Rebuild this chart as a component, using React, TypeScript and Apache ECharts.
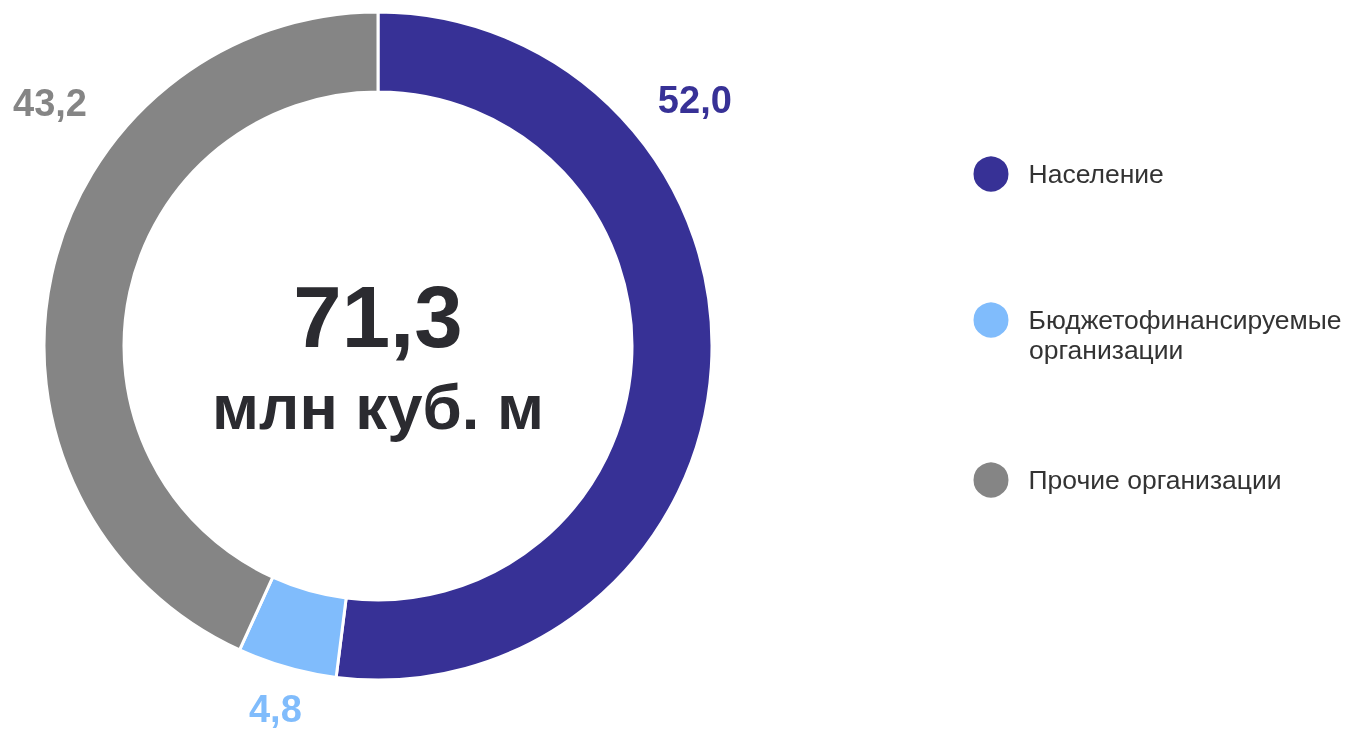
import React, { useEffect, useRef } from "react";
import * as echarts from "echarts";

const categories = ["Население", "Бюджетофинансируемые", "Прочие организации"];
const legendSecondLine = ["", "организации", ""];
const values = [52.0, 4.8, 43.2];
const colors = ["#373196", "#80BCFC", "#858585"];
const totalLabel = "71,3";
const unitLabel = "млн куб. м";
// angle (deg, clockwise from 12 o'clock) and distance from centre for value labels
const labelAngles = [52.2, 195.8, -53.5];
const labelDistances = [401, 377, 408];

const FONT = "'Liberation Sans', Arial, sans-serif";

export default function App() {
  const ref = useRef<HTMLDivElement>(null);
  useEffect(() => {
    if (!ref.current) return;
    const chart = echarts.init(ref.current, undefined, { renderer: "svg" });
    const cx = 378;
    const cy = 346;
    const legendTops = [173, 319, 479];
    chart.setOption({
      animation: false,
      color: colors,
      legend: categories.map((c, i) => ({
        data: [c],
        orient: "vertical",
        left: 966.5,
        top: legendTops[i] - 18.5 - 5,
        icon: "circle",
        itemWidth: 37,
        itemHeight: 37,
        selectedMode: false,
        textStyle: {
          fontFamily: FONT,
          fontSize: 26.5,
          color: "#333333",
          padding: [0, 0, 0, 14],
        },
      })),
      graphic: [
        {
          type: "text",
          x: cx,
          y: 316,
          style: {
            text: totalLabel,
            fontFamily: FONT,
            fontWeight: "bold",
            fontSize: 87,
            fill: "#2b2b30",
            align: "center",
            verticalAlign: "middle",
          },
        },
        {
          type: "text",
          x: cx,
          y: 407,
          style: {
            text: unitLabel,
            fontFamily: FONT,
            fontWeight: "bold",
            fontSize: 63.5,
            fill: "#2b2b30",
            align: "center",
            verticalAlign: "middle",
          },
        },
        ...legendSecondLine
          .map((t, i) =>
            t
              ? {
                  type: "text",
                  x: 1029,
                  y: legendTops[i] + 31,
                  style: {
                    text: t,
                    fontFamily: FONT,
                    fontSize: 26.5,
                    fill: "#333333",
                    verticalAlign: "middle",
                  },
                }
              : null
          )
          .filter(Boolean),
      ],
      series: [
        {
          type: "pie",
          center: [cx, cy],
          radius: [254, 334],
          startAngle: 90,
          clockwise: true,
          avoidLabelOverlap: false,
          itemStyle: { borderColor: "#ffffff", borderWidth: 3 },
          label: {
            show: true,
            position: "outside",
            fontFamily: FONT,
            fontWeight: "bold",
            fontSize: 38,
            color: "inherit",
            formatter: (p: any) => p.value.toFixed(1).replace(".", ","),
          },
          labelLine: { show: false },
          labelLayout: (p: any) => {
            const a = (labelAngles[p.dataIndex] * Math.PI) / 180;
            const d = labelDistances[p.dataIndex];
            return {
              x: cx + d * Math.sin(a),
              y: cy - d * Math.cos(a),
              align: "center",
              verticalAlign: "middle",
            };
          },
          data: categories.map((c, i) => ({
            name: c,
            value: values[i],
            itemStyle: { color: colors[i] },
            label: { color: colors[i] },
          })),
        },
      ],
    });
    return () => chart.dispose();
  }, []);
  return (
    <div
      ref={ref}
      style={{ position: "fixed", left: 0, top: 0, width: 1349, height: 730 }}
    />
  );
}
